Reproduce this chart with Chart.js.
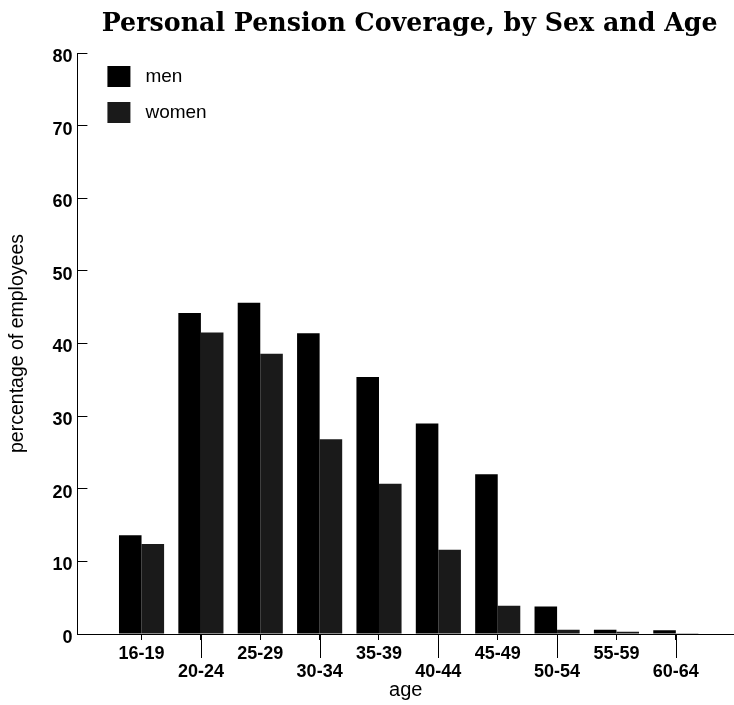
<!DOCTYPE html>
<html>
<head>
<meta charset="utf-8">
<script src="https://cdn.jsdelivr.net/npm/chart.js@4"></script>
<style>
  html, body { margin: 0; padding: 0; background: #fff; }
  #wrap { width: 734px; height: 705px; }
</style>
</head>
<body>
<div id="wrap"><canvas id="myChart"></canvas></div>
<script>
const titulo = "Personal Pension Coverage, by Sex and Age";
const ageGroups = ["16-19", "20-24", "25-29", "30-34", "35-39", "40-44", "45-49", "50-54", "55-59", "60-64"];
const menValues = [13.6, 44.2, 45.6, 41.4, 35.4, 29.0, 22.0, 3.8, 0.6, 0.5];
const womenValues = [12.4, 41.5, 38.6, 26.8, 20.7, 11.6, 3.9, 0.6, 0.3, 0.1];
const yMin = 0, yMax = 80, yStep = 10;

const toPoints = vals => vals.map((v, i) => ({ x: i, y: v }));

// title + legend + the long tick marks under every second age group
const extras = {
  id: "extras",
  afterDraw(chart) {
    const c = chart.ctx;
    const area = chart.chartArea;
    const xs = chart.scales.x;
    c.save();
    c.fillStyle = "#000";
    c.textAlign = "center";
    c.textBaseline = "middle";
    c.font = "bold 25.3px 'DejaVu Serif'";
    c.fillText(titulo, (area.left + area.right) / 2 + 4, 24);

    c.strokeStyle = "#000";
    c.lineWidth = 1;
    ageGroups.forEach((g, i) => {
      if (i % 2 === 1) {
        const px = Math.round(xs.getPixelForValue(i)) + 0.5;
        c.beginPath();
        c.moveTo(px, area.bottom);
        c.lineTo(px, area.bottom + 24);
        c.stroke();
      }
    });

    c.textAlign = "left";
    c.font = "19px 'Liberation Sans'";
    chart.data.datasets.forEach((ds, i) => {
      const bx = area.left + 30, by = area.top + 13 + i * 36;
      c.fillStyle = ds.backgroundColor;
      c.fillRect(bx, by, 23, 21);
      c.fillStyle = "#000";
      c.fillText(ds.label, bx + 38, by + 11);
    });
    c.restore();
  }
};

const ctx = document.getElementById("myChart").getContext("2d");
const myChart = new Chart(ctx, {
  type: "bar",
  data: {
    datasets: [
      { label: "men", data: toPoints(menValues), backgroundColor: "#000000", borderWidth: 0 },
      { label: "women", data: toPoints(womenValues), backgroundColor: "#1a1a1a", borderWidth: 0 }
    ]
  },
  options: {
    responsive: true,
    maintainAspectRatio: false,
    animation: false,
    categoryPercentage: 0.76,
    barPercentage: 1.0,
    layout: { padding: { top: 53, right: 0, bottom: 0, left: 0 } },
    plugins: {
      legend: { display: false },
      tooltip: { enabled: false },
      title: { display: false }
    },
    scales: {
      x: {
        type: "linear",
        offset: false,
        min: -1.08,
        max: 9.98,
        afterBuildTicks: scale => {
          scale.ticks = scale.ticks.filter(t => t.value >= 0 && t.value < ageGroups.length && Number.isInteger(t.value));
        },
        ticks: {
          stepSize: 1,
          autoSkip: false,
          maxRotation: 0,
          padding: 5,
          color: "#000",
          font: { family: "'Liberation Sans'", size: 18, weight: "bold", lineHeight: 1.0 },
          callback: (value) => {
            const lbl = ageGroups[value];
            return value % 2 === 1 ? ["", lbl] : lbl;
          }
        },
        grid: { display: true, offset: false, drawOnChartArea: false, drawTicks: true, tickLength: 6, color: "#000" },
        border: { display: true, color: "#000", width: 1 },
        title: {
          display: true,
          text: "age",
          color: "#000",
          padding: { top: -6, bottom: 5 },
          font: { family: "'Liberation Sans'", size: 20, lineHeight: 1.0 }
        }
      },
      y: {
        min: yMin,
        max: yMax,
        ticks: {
          stepSize: yStep,
          padding: 15,
          labelOffset: 4,
          color: "#000",
          font: { family: "'Liberation Sans'", size: 18, weight: "bold" }
        },
        grid: { display: true, drawOnChartArea: false, drawTicks: true, tickLength: -10, color: "#000" },
        border: { display: true, color: "#000", width: 1 },
        title: {
          display: true,
          text: "percentage of employees",
          color: "#000",
          padding: { top: 6, bottom: 8 },
          font: { family: "'Liberation Sans'", size: 19.5, lineHeight: 1.2 }
        }
      }
    }
  },
  plugins: [extras]
});
</script>
</body>
</html>
